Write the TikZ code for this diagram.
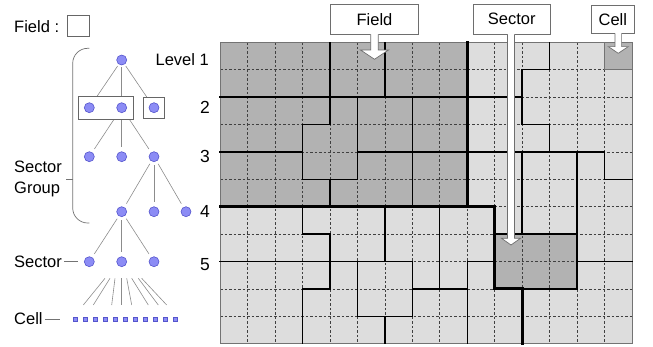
\documentclass[tikz,border=0pt]{standalone}
\usepackage{fontspec}
\setmainfont{Liberation Sans}
\usetikzlibrary{calc,fit}
\definecolor{dotfill}{RGB}{140,140,245}
\definecolor{dotline}{RGB}{85,85,205}
\definecolor{darkcell}{RGB}{178,178,178}
\definecolor{lightcell}{RGB}{221,221,221}
\definecolor{boxline}{RGB}{110,110,110}
\pgfdeclarelayer{edges}
\pgfdeclarelayer{boxes}
\pgfsetlayers{edges,boxes,main}

% white block arrow hanging below a callout box: #1 box, #2 tip,
% #3 half shaft width, #4 half head width, #5 head length
\newcommand\calloutarrow[5]{%
  \fill[white] let \p1=(#1.south), \p2=(#2) in
    (\x2-#3pt,\y1+0.8pt) -- (\x2-#3pt,\y2+#5pt) -- (\x2-#4pt,\y2+#5pt) -- (\x2,\y2)
    -- (\x2+#4pt,\y2+#5pt) -- (\x2+#3pt,\y2+#5pt) -- (\x2+#3pt,\y1+0.8pt) -- cycle;
  \draw[boxline,line width=0.7pt] let \p1=(#1.south), \p2=(#2) in
    (\x2-#3pt,\y1+0.4pt) -- (\x2-#3pt,\y2+#5pt) -- (\x2-#4pt,\y2+#5pt) -- (\x2,\y2)
    -- (\x2+#4pt,\y2+#5pt) -- (\x2+#3pt,\y2+#5pt) -- (\x2+#3pt,\y1+0.4pt);
}

\begin{document}
\begin{tikzpicture}[x=1pt,y=-1pt,
  dot/.style={circle,fill=dotfill,draw=dotline,line width=0.6pt,minimum size=10pt,inner sep=0pt},
  cellsq/.style={rectangle,fill=dotfill,draw=dotline,line width=0.5pt,minimum size=4.2pt,inner sep=0pt},
  treeedge/.style={draw=black!45,line width=0.6pt},
  lbl/.style={font=\fontsize{16.5}{21}\selectfont,inner sep=0pt},
  num/.style={font=\fontsize{17.5}{21}\selectfont,inner sep=0pt},
  callout/.style={draw=boxline,fill=white,line width=0.7pt,inner sep=0pt,font=\fontsize{16.5}{20}\selectfont},
  grpbox/.style={draw=black!60,fill=white,line width=0.7pt,inner sep=6pt},
  grp/.style={draw=black!55,line width=0.7pt},
  gdash/.style={black!75,line width=0.6pt,dash pattern=on 2.5pt off 2pt},
  sectline/.style={line width=1.4pt,line cap=rect},
  fieldline/.style={line width=3pt,line cap=rect},
]
\useasboundingbox (0,0) rectangle (653,346);

% ---------- legend and hierarchy tree ----------
\node[lbl,anchor=west] (fieldkey) at (14,26.5) {Field :};
\node[draw=black!60,line width=0.7pt,minimum width=21.6pt,minimum height=21pt,inner sep=0pt] (fieldsym) at (78.5,25.5) {};

\node[dot] (l1)  at (121.7,60) {};
\node[dot] (l2a) at (89.3,107.7) {};
\node[dot] (l2b) at (121.7,107.7) {};
\node[dot] (l2c) at (154,107.7) {};
\node[dot] (l3a) at (89.3,156.7) {};
\node[dot] (l3b) at (121.7,156.7) {};
\node[dot] (l3c) at (154,156.7) {};
\node[dot] (l4a) at (121.7,211.7) {};
\node[dot] (l4b) at (154,211.7) {};
\node[dot] (l4c) at (186,211.7) {};
\node[dot] (l5a) at (89.3,261.7) {};
\node[dot] (l5b) at (121.7,261.7) {};
\node[dot] (l5c) at (154,261.7) {};
\foreach \k in {0,...,10}
  \node[cellsq] (c\k) at (75+10*\k,319) {};

\begin{pgfonlayer}{boxes}
  \node[grpbox,fit=(l2a)(l2b)] (g2a) {};
  \node[grpbox,inner sep=5.5pt,fit=(l2c)] (g2b) {};
\end{pgfonlayer}

\begin{pgfonlayer}{edges}
  \foreach \t in {l2a,l2b,l2c} \draw[treeedge,shorten <=2pt] (l1) -- (\t);
  \foreach \t in {l3a,l3b,l3c} \draw[treeedge,shorten >=4pt] (l2b) -- (\t);
  \foreach \t in {l4a,l4b,l4c} \draw[treeedge,shorten <=3pt,shorten >=4pt] (l3c) -- (\t);
  \foreach \t in {l5a,l5b,l5c} \draw[treeedge,shorten <=3pt,shorten >=4pt] (l4a) -- (\t);
\end{pgfonlayer}

% fan of cells below the sectors
\foreach \a/\b in {105/83.3,110/93.3,115/111.7,121.7/121.7,126.7/131.7,131.7/148.3,138.3/158.3,141.7/166.7}
  \draw[treeedge] (\a,278.3) -- (\b,305);

\node[lbl,anchor=east] (lev1) at (209,60) {Level 1};
\node[num,anchor=east] (lev2) at (210,107.7) {2};
\node[num,anchor=east] (lev3) at (210,156.7) {3};
\node[num,anchor=east] (lev4) at (210,211.7) {4};
\node[num,anchor=east] (lev5) at (210,265) {5};

% sector-group bracket
\draw[grp,rounded corners=15pt] (89.3,48.3) -- (72.7,48.3) -- (72.7,223) -- (89.3,223);
\coordinate (brmid) at (72.7,179.3);
\node[lbl,anchor=west,align=left] (sglbl) at (14,178.5) {Sector\\Group};
\draw[grp] (66,179.3) -- (brmid);

\node[lbl,anchor=west] (seclbl) at (14,261.7) {Sector};
\draw[grp,shorten <=2pt,shorten >=6pt] (seclbl) -- (l5a);
\node[lbl,anchor=west] (celllbl) at (14,319) {Cell};
\draw[grp,shorten <=2pt,shorten >=13pt] (celllbl) -- (c0);

% ---------- cell map ----------
\begin{scope}[shift={(220,42.3)},x=27.47pt,y=-27.4pt]
  \fill[lightcell] (0,0) rectangle (15,11);
  \fill[darkcell] (0,0) rectangle (9,6);
  \fill[darkcell] (14,0) rectangle (15,1);
  \fill[darkcell] (10,7) rectangle (13,9);
  \foreach \i in {1,...,14} \draw[gdash] (\i,0) -- (\i,11);
  \foreach \j in {1,...,10} \draw[gdash] (0,\j) -- (15,\j);
  \draw[black!55,line width=0.8pt] (0,0) rectangle (15,11);
  \draw[black!55,line width=0.8pt] (14,0) rectangle (15,1);

  % sector borders
  \draw[sectline] (4,0) -- (4,3) -- (3,3) -- (3,5) -- (5,5) -- (5,2);
  \draw[sectline] (4,5) -- (4,6);
  \draw[sectline] (6,0) -- (6,2);
  \draw[sectline] (0,2) -- (11,2);
  \draw[sectline] (7,2) -- (7,6);
  \draw[sectline] (0,4) -- (3,4);
  \draw[sectline] (5,4) -- (14,4) -- (14,5) -- (15,5);
  \draw[sectline] (12,0) -- (12,1) -- (11,1) -- (11,3) -- (12,3) -- (12,4);
  \draw[sectline] (11,4) -- (11,7);
  \draw[sectline] (13,4) -- (13,7);
  \draw[sectline] (10,7) -- (13,7) -- (13,9) -- (11,9);
  \draw[sectline] (13,8) -- (15,8);
  \draw[sectline] (3,6) -- (3,7) -- (4,7) -- (4,9) -- (3,9) -- (3,11);
  \draw[sectline] (0,8) -- (7,8);
  \draw[sectline] (6,6) -- (6,8);
  \draw[sectline] (5,8) -- (5,10) -- (7,10) -- (7,8);
  \draw[sectline] (6,10) -- (6,11);
  \draw[sectline] (7,9) -- (9,9);
  \draw[sectline] (8,6) -- (8,9);
  \draw[sectline] (9,8) -- (9,11);
  \draw[sectline] (9,8) -- (10,8);

  % field borders
  \draw[fieldline] (9,0) -- (9,6);
  \draw[fieldline] (0,6) -- (10,6) -- (10,9) -- (11,9) -- (11,11);
\end{scope}

% ---------- callouts ----------
\node[callout,minimum width=87.6pt,minimum height=30.3pt] (fieldcall) at (374.5,19.2) {Field};
\node[callout,minimum width=76.7pt,minimum height=30.3pt] (seccall) at (511.7,19.2) {Sector};
\node[callout,minimum width=42.3pt,minimum height=28.3pt] (cellcall) at (612.8,19.2) {Cell};
\coordinate (fieldtip) at (374.5,59.3);
\coordinate (sectip) at (511,245);
\coordinate (celltip) at (618.3,53.3);
\calloutarrow{fieldcall}{fieldtip}{3.8}{14}{9.3}
\calloutarrow{seccall}{sectip}{3.5}{9.5}{6.7}
\calloutarrow{cellcall}{celltip}{3.3}{10}{6.7}
\end{tikzpicture}
\end{document}
